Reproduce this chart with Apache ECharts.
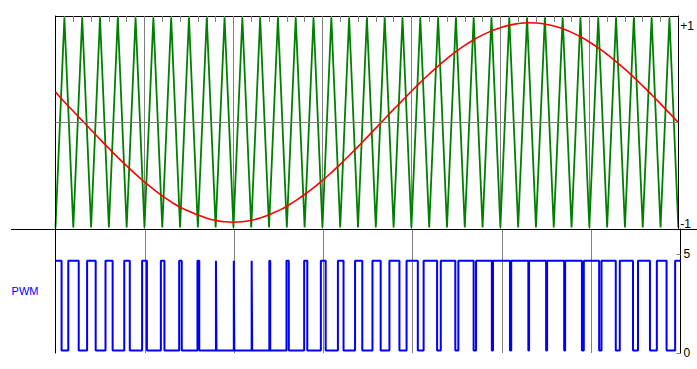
<!DOCTYPE html>
<html><head><meta charset="utf-8">
<script src="https://cdn.jsdelivr.net/npm/echarts@6/dist/echarts.min.js"></script>
<style>html,body{margin:0;padding:0;background:#fff}#c{width:697px;height:369px}</style>
</head><body><div id="c"></div>
<script>
// time axis in carrier half-periods (0..70)
const timeUnits = [0,1,2,3,4,5,6,7,8,9,10,11,12,13,14,15,16,17,18,19,20,21,22,23,24,25,26,27,28,29,30,31,32,33,34,35,36,37,38,39,40,41,42,43,44,45,46,47,48,49,50,51,52,53,54,55,56,57,58,59,60,61,62,63,64,65,66,67,68,69,70];
// triangle carrier vertices (green)
const carrierValues = [-1,1,-1,1,-1,1,-1,1,-1,1,-1,1,-1,1,-1,1,-1,1,-1,1,-1,1,-1,1,-1,1,-1,1,-1,1,-1,1,-1,1,-1,1,-1,1,-1,1,-1,1,-1,1,-1,1,-1,1,-1,1,-1,1,-1,1,-1,1,-1,1,-1,1,-1,1,-1,1,-1,1,-1,1,-1,1,-1];
// sine reference (red)
const sineValues = [0.29,0.195,0.107,0.018,-0.071,-0.160,-0.247,-0.332,-0.414,-0.492,-0.567,-0.636,-0.699,-0.756,-0.808,-0.845,-0.882,-0.912,-0.933,-0.946,-0.950,-0.946,-0.932,-0.911,-0.880,-0.842,-0.798,-0.744,-0.686,-0.622,-0.552,-0.477,-0.398,-0.315,-0.230,-0.142,-0.054,0.036,0.125,0.211,0.298,0.382,0.462,0.538,0.609,0.675,0.735,0.788,0.835,0.873,0.904,0.928,0.943,0.950,0.948,0.938,0.920,0.893,0.859,0.817,0.767,0.711,0.649,0.581,0.508,0.430,0.349,0.265,0.178,0.089,0];
// PWM output: starts high, toggles at each edge time
const pwmStartHigh = true;
const pwmEdges = [0.68,
 1.43,2.6, 3.54,4.5, 5.6,6.4, 7.7,8.32, 9.7,10.24, 11.8,12.2, 13.85,14.14, 15.9,16.1,
 17.97,18.03, 19.97,20.03, 21.97,22.03, 23.95,24.05, 25.87,26.13, 27.85,28.2, 29.72,30.26,
 31.63,32.26, 33.55,34.36, 35.5,36.42, 37.4,38.52, 39.32,40.58, 41.23,42.74, 43.15,44.78,
 45.12,46.83, 47.1,48.87, 49.0,50.9, 51.04,52.96, 53.04,54.95, 55.06,56.97, 57.08,58.96,
 59.17,60.89, 61.15,62.75, 63.2,64.68, 65.24,66.58, 67.35,68.44, 69.4];
const pwmHigh = 4.65, pwmLow = 0.13;
const topTickValues = [1,-1];
const topTickLabels = ['+1','-1'];
const bottomTickValues = [5,0];
const bottomTickLabels = ['5','0'];
const zeroLine = 0;

const carrierData = timeUnits.map((t,i)=>[t,carrierValues[i]]);
const sineData = timeUnits.map((t,i)=>[t,sineValues[i]]);
const pwmData = [];
let lvl = pwmStartHigh ? pwmHigh : pwmLow;
pwmData.push([timeUnits[0], lvl]);
pwmEdges.forEach(t=>{ pwmData.push([t,lvl]); lvl = (lvl===pwmHigh)?pwmLow:pwmHigh; pwmData.push([t,lvl]); });
pwmData.push([timeUnits[timeUnits.length-1], lvl]);

const GRAY='#808080';
const chart = echarts.init(document.getElementById('c'), null, {renderer:'svg'});
chart.setOption({
  animation:false,
  backgroundColor:'#fff',
  textStyle:{fontFamily:'Liberation Sans, Arial, sans-serif'},
  grid:[
    {left:55.5, top:16, width:625, height:213},
    {left:55.5, top:229, width:625, height:124}
  ],
  xAxis:[
    {gridIndex:0, type:'value', min:0, max:70, interval:10, position:'top',
     axisLine:{show:true, onZero:false, lineStyle:{color:'#000', width:1}},
     axisTick:{show:true, inside:true, length:6, lineStyle:{color:GRAY}},
     minorTick:{show:true, splitNumber:10, length:6, lineStyle:{color:GRAY}},
     axisLabel:{show:false},
     splitLine:{show:true, lineStyle:{color:GRAY, width:1}}},
    {gridIndex:1, type:'value', min:0, max:70, interval:10,
     axisLine:{show:false, onZero:false}, axisTick:{show:false}, axisLabel:{show:false},
     splitLine:{show:true, lineStyle:{color:GRAY, width:1}}}
  ],
  yAxis:[
    {gridIndex:0, type:'value', min:-1.015, max:1.015, position:'left', z:3,
     axisLine:{show:true, onZero:false, lineStyle:{color:'#000'}},
     axisTick:{show:false}, axisLabel:{show:false}, splitLine:{show:false}},
    {gridIndex:0, type:'value', min:-1.015, max:1.015, position:'right', z:3,
     axisLine:{show:true, onZero:false, lineStyle:{color:'#000'}},
     axisTick:{show:false}, splitLine:{show:false},
     axisLabel:{show:true, customValues:topTickValues, margin:2, color:'#000', fontSize:12,
       formatter:v=>{const i=topTickValues.indexOf(v); return v>0?'{a|'+topTickLabels[i]+'}':'{b|'+topTickLabels[i]+'}';},
       rich:{a:{fontSize:12,color:'#000',padding:[17,0,0,0]}, b:{fontSize:12,color:'#000',padding:[0,0,6,0]}}}},
    {gridIndex:1, type:'value', min:0, max:6.25, position:'right', z:3,
     axisLine:{show:true, onZero:false, lineStyle:{color:'#000'}},
     axisTick:{show:true, inside:true, length:4, customValues:bottomTickValues, lineStyle:{color:GRAY}},
     axisLabel:{show:true, customValues:bottomTickValues, margin:3, color:'#000', fontSize:12,
       formatter:v=>bottomTickLabels[bottomTickValues.indexOf(v)]},
     splitLine:{show:false}},
    {gridIndex:1, type:'value', min:0, max:6.25, position:'left', z:3,
     axisLine:{show:true, onZero:false, lineStyle:{color:'#000'}},
     axisTick:{show:false}, axisLabel:{show:false}, splitLine:{show:false},
     name:'PWM', nameLocation:'middle', nameRotate:0, nameGap:17,
     nameTextStyle:{color:'#0000ff', fontSize:11, align:'right', verticalAlign:'middle'}}
  ],
  series:[
    {type:'line', xAxisIndex:0, yAxisIndex:0, data:carrierData, symbol:'none',
     lineStyle:{color:'#008000', width:1.8}, z:2,
     markLine:{silent:true, symbol:['none','none'], label:{show:false},
       lineStyle:{color:GRAY, type:'solid', width:1}, data:[{yAxis:zeroLine}]}},
    {type:'line', xAxisIndex:0, yAxisIndex:0, data:sineData, symbol:'none', smooth:true,
     lineStyle:{color:'#ff0000', width:1.6}, z:4},
    {type:'line', xAxisIndex:1, yAxisIndex:2, data:pwmData, symbol:'none',
     lineStyle:{color:'#0000ff', width:2}, z:4}
  ],
  graphic:[
    {type:'line', shape:{x1:11, y1:229.5, x2:697, y2:229.5}, style:{stroke:'#000', lineWidth:1}, z:10}
  ]
});
</script></body></html>
